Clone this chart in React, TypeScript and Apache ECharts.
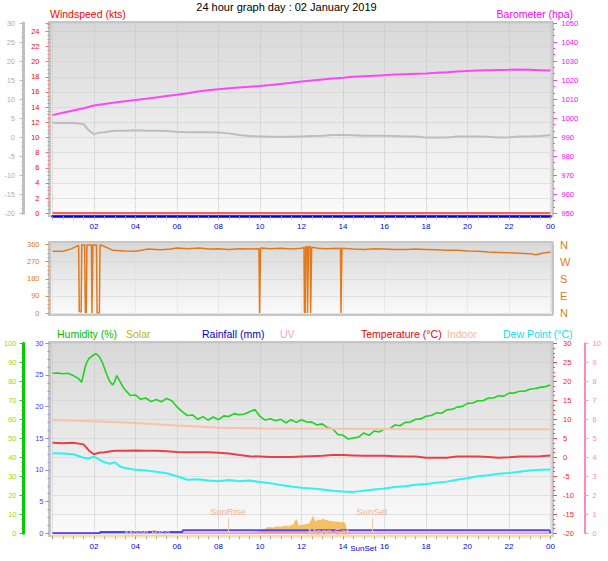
import React, { useEffect, useRef } from 'react';
import * as echarts from 'echarts';

const TITLE = '24 hour graph day : 02 January 2019';

const HALF_HOURS = [0,0.5,1,1.5,2,2.5,3,3.5,4,4.5,5,5.5,6,6.5,7,7.5,8,8.5,9,9.5,10,10.5,11,11.5,12,12.5,13,13.5,14,14.5,15,15.5,16,16.5,17,17.5,18,18.5,19,19.5,20,20.5,21,21.5,22,22.5,23,23.5,24];

const baroValues = [1001.6,1002.8,1004.0,1005.2,1006.6,1007.4,1008.2,1008.9,1009.6,1010.2,1010.9,1011.6,1012.3,1013.1,1014.0,1014.7,1015.2,1015.7,1016.1,1016.5,1016.9,1017.4,1018.0,1018.6,1019.3,1019.8,1020.3,1020.8,1021.2,1021.7,1022.0,1022.3,1022.6,1022.9,1023.1,1023.3,1023.5,1023.8,1024.1,1024.5,1024.8,1025.0,1025.2,1025.3,1025.4,1025.6,1025.4,1025.2,1025.0];

const windSpeedHours = [0, 24];
const windSpeedValues = [0, 0];

const tempHours = [0,0.5,1,1.5,1.75,2,2.25,2.5,3,3.5,4,4.5,5,5.5,6,6.5,7,7.5,8,8.5,9,9.5,10,10.5,11,11.5,12,12.5,13,13.5,14,14.5,15,15.5,16,16.5,17,17.5,18,18.5,19,19.5,20,20.5,21,21.5,22,22.5,23,23.5,24];
const tempValues = [3.8,3.7,3.8,3.4,1.8,0.8,1.2,1.3,1.7,1.7,1.8,1.7,1.7,1.6,1.4,1.3,1.3,1.3,1.2,1.0,0.6,0.3,0.2,0.1,0.1,0.1,0.2,0.3,0.4,0.6,0.6,0.5,0.4,0.4,0.4,0.3,0.2,0.2,-0.1,-0.1,-0.1,0.2,0.2,0.2,0.1,-0.1,0.0,0.2,0.2,0.3,0.5];

const indoorHours = [0,2,4,6,7,8,10,14,18,24];
const indoorValues = [9.8,9.5,9.0,8.4,8.1,7.8,7.6,7.5,7.4,7.4];

const dewHours = [0,0.5,1,1.5,1.75,2,2.25,2.5,2.75,3,3.25,3.5,4,4.5,5,5.5,6,6.5,7,7.5,8,8.5,9,9.5,10,10.5,11,11.5,12,12.5,13,13.5,14,14.5,15,15.5,16,16.5,17,17.5,18,18.5,19,19.5,20,20.5,21,21.5,22,22.5,23,23.5,24];
const dewValues = [1.05,1.0,0.8,-0.1,-0.3,0.2,-0.6,-1.3,-1.7,-1.3,-2.4,-2.8,-3.3,-3.5,-3.8,-4.2,-5.0,-5.9,-5.8,-6.1,-6.3,-6.0,-6.3,-6.1,-6.5,-6.8,-7.3,-7.7,-8.0,-8.2,-8.5,-8.8,-9.0,-9.1,-8.8,-8.5,-8.2,-7.8,-7.6,-7.2,-7.0,-6.7,-6.4,-5.9,-5.5,-5.0,-4.7,-4.3,-4.1,-3.8,-3.5,-3.3,-3.2];

const humHours = [0,0.25,0.5,0.75,1,1.25,1.4,1.5,1.6,1.75,2,2.1,2.25,2.4,2.5,2.6,2.75,2.9,3,3.1,3.25,3.4,3.5,3.75,4,4.25,4.5,4.75,5,5.25,5.5,5.75,6,6.25,6.5,6.75,7,7.25,7.5,7.75,8,8.25,8.5,8.75,9,9.25,9.5,9.75,10,10.25,10.5,10.75,11,11.25,11.5,11.75,12,12.25,12.5,12.75,13,13.25,13.5,13.75,14,14.25,14.5,14.75,15,15.25,15.5,15.75,16,16.25,16.5,16.75,17,17.25,17.5,17.75,18,18.25,18.5,18.75,19,19.25,19.5,19.75,20,20.25,20.5,20.75,21,21.25,21.5,21.75,22,22.25,22.5,22.75,23,23.25,23.5,23.75,24];
const humValues = [84.2,84.4,84.0,84.2,83.0,81.5,79.5,84,88.6,92,94,94.5,93,90,87,84,80,78,80,83,80,77,75.5,72.5,72.8,70.5,71.2,69.3,70.4,69.2,71,69.8,66.5,64,62,62.3,60,61.4,59.6,61.2,59.8,61.8,61.5,63,62.4,62.8,64,65.2,61.5,59.6,60.3,59.2,60,58.2,59.8,58.4,59.8,58.6,58.5,57,57.6,55.6,55,52,51.6,49.6,50.2,50.6,52.8,51.6,53.8,53.4,55,55,57,56.6,58.4,58.6,60,60.2,61.6,62,63.4,63.2,65,65.2,66.4,66.8,68.4,68.6,69.8,69.8,71.2,71.2,72.4,72.2,73.8,73.8,74.8,74.8,75.8,76.2,76.8,77.2,78];

const windDirHours = [0,0.5,0.9,1.15,1.26,1.29,1.38,1.41,1.55,1.58,1.63,1.66,1.88,1.9,1.93,1.95,2.12,2.15,2.26,2.29,2.4,2.6,2.9,3.5,4,4.6,5.2,5.7,6,6.5,7.1,7.5,8,8.5,9,9.5,9.95,9.98,10.0,10.03,10.5,11,11.5,12,12.12,12.14,12.18,12.2,12.27,12.29,12.32,12.34,12.42,12.44,12.47,12.49,12.8,13.2,13.88,13.9,13.93,13.95,14.5,15,15.5,16,16.5,17,17.5,18,18.5,19,19.5,20,20.5,21,21.5,22,22.5,23,23.3,23.6,24];
const windDirValues = [324,325,337,350,355,8,5,358,358,4,2,357,358,0,0,357,358,0,0,358,355,345,330,326,324,336,332,336,341,338,342,336,338,334,338,336,338,0,0,342,338,340,336,340,345,2,2,350,348,0,0,350,348,0,0,345,340,338,340,0,0,340,336,334,338,336,334,334,336,334,332,330,330,326,324,320,318,316,314,312,306,314,320];

const solarHours = [9.4,9.7,10.0,10.2,10.4,10.6,10.8,11.0,11.2,11.4,11.6,11.75,11.85,12.0,12.2,12.4,12.55,12.65,12.8,12.9,13.0,13.2,13.4,13.6,13.8,14.0,14.1,14.2];
const solarValues = [0,4,8,20,32,28,35,32,38,36,45,72,40,42,46,50,88,60,70,66,74,68,62,60,58,56,52,0];

const rainHours = [0,2.28,2.3,6.26,6.28,23.95,24];
const rainValues = [0,0,0.2,0.2,0.5,0.5,0];

const uvHours = [0, 24];
const uvValues = [0, 0];

const sunRiseHour = 8.45;
const sunSetHour = 15.39;
const moonRiseHour = 4.57;
const moonSetHour = 13.29;

const compass: Record<number, string> = { 0: 'N', 90: 'E', 180: 'S', 270: 'W', 360: 'N' };

const FONT = '"Liberation Sans", Arial, sans-serif';
const pairs = (xs: number[], ys: number[]) => xs.map((x, i) => [x, ys[i]]);
const pad = (v: number) => (v === 0 ? '' : String(v % 24).padStart(2, '0'));

const GL = 52.5;
const GW = 498;

const frameFill = {
  type: 'linear', x: 0, y: 0, x2: 0, y2: 1,
  colorStops: [
    { offset: 0, color: '#d8d8d8' },
    { offset: 0.45, color: '#e8e8e8' },
    { offset: 1, color: '#fbfbfb' },
  ],
};

function xAxisFor(gridIndex: number, showLabels: boolean, lineColor: string) {
  return {
    type: 'value', gridIndex, min: 0, max: 24, interval: 2,
    offset: showLabels ? 3 : 0,
    axisLine: { show: showLabels, onZero: false, lineStyle: { color: lineColor, width: 2.5 } },
    axisTick: { show: showLabels, length: 3, lineStyle: { color: '#9a9a9a' } },
    minorTick: { show: showLabels, splitNumber: 4, length: 3, lineStyle: { color: '#b0b0b0' } },
    axisLabel: { show: showLabels, formatter: pad, color: '#0000ee', fontSize: 8, margin: 6, fontFamily: FONT },
    splitLine: { show: true, lineStyle: { type: 'dotted', color: showLabels ? '#c4c4c4' : '#dadada' } },
  };
}

function yAxisFor(o: any) {
  return {
    type: 'value',
    axisLine: { show: true, onZero: false, lineStyle: { color: o.lineColor || '#c4c4c4', width: o.lineWidth || 2 } },
    axisTick: { show: true, length: 4, lineStyle: { color: o.tickColor } },
    minorTick: { show: true, splitNumber: o.minor || 4, length: 2, lineStyle: { color: o.tickColor } },
    axisLabel: { color: o.labelColor, fontSize: 7.5, margin: o.margin, fontFamily: FONT, showMaxLabel: o.showMax !== false, formatter: (v: number) => String(v) },
    splitLine: { show: !!o.split, lineStyle: { type: 'dotted', color: '#cdcdcd' } },
    ...o.extra,
  };
}

function headerText(text: string, x: number, y: number, fill: string, align = 'left') {
  return {
    type: 'text', x, y, z: 100,
    style: { text, fill, fontSize: 10.5, fontFamily: FONT, align, verticalAlign: 'middle' },
  };
}

const option: any = {
  animation: false,
  backgroundColor: '#ffffff',
  textStyle: { fontFamily: FONT },
  grid: [
    { left: GL, top: 23, width: GW, height: 190.3 },
    { left: GL, top: 244.5, width: GW, height: 68.5 },
    { left: GL, top: 343.3, width: GW, height: 190 },
  ],
  xAxis: [
    xAxisFor(0, true, '#0000ff'),
    xAxisFor(1, false, '#c4c4c4'),
    xAxisFor(2, true, '#fbe2a6'),
  ],
  yAxis: [
    yAxisFor({ extra: { gridIndex: 0, position: 'left', offset: 3, min: 0, max: 25.1, interval: 2 }, tickColor: '#ff7070', labelColor: '#ff0000', margin: 10, split: true, showMax: false }),
    yAxisFor({ extra: { gridIndex: 0, position: 'left', offset: 29, min: -20, max: 30, interval: 5 }, lineColor: '#c0c0c0', lineWidth: 3, tickColor: '#bbbbbb', labelColor: '#b0b0b0', margin: 8.5 }),
    yAxisFor({ extra: { gridIndex: 0, position: 'right', offset: 2.5, min: 950, max: 1050, interval: 10 }, tickColor: '#ff44ff', labelColor: '#ff00ff', margin: 8.5, minor: 3 }),
    yAxisFor({ extra: { gridIndex: 1, position: 'left', offset: 3, min: 0, max: 360, interval: 90 }, tickColor: '#e8893a', labelColor: '#e07b20', margin: 10, split: true, minor: 4 }),
    {
      type: 'value', gridIndex: 1, position: 'right', offset: 2.5, min: 0, max: 360, interval: 90,
      axisLine: { show: true, onZero: false, lineStyle: { color: '#c4c4c4', width: 2 } },
      axisTick: { show: false },
      axisLabel: { color: '#e07b20', fontSize: 11, margin: 7, fontFamily: FONT, formatter: (v: number) => compass[v] || '' },
      splitLine: { show: false },
    },
    yAxisFor({ extra: { gridIndex: 2, position: 'left', offset: 29, min: 0, max: 100, interval: 10 }, lineColor: '#00cc00', lineWidth: 3, tickColor: '#22cc22', labelColor: '#a8d400', margin: 7, split: true }),
    yAxisFor({ extra: { gridIndex: 2, position: 'left', offset: 3, min: 0, max: 30, interval: 5 }, tickColor: '#8a8aff', labelColor: '#4646ff', margin: 6 }),
    yAxisFor({ extra: { gridIndex: 2, position: 'right', offset: 2.5, min: -20, max: 30, interval: 5 }, tickColor: '#ff4a4a', labelColor: '#ff2020', margin: 10 }),
    yAxisFor({ extra: { gridIndex: 2, position: 'right', offset: 34, min: 0, max: 10, interval: 1 }, lineColor: '#ff88bb', lineWidth: 2, tickColor: '#ff99c4', labelColor: '#ff88bb', margin: 8, minor: 2 }),
    { type: 'value', gridIndex: 2, min: 0, max: 1000, show: false },
  ],
  series: [
    { name: 'Temperature (top)', type: 'line', xAxisIndex: 0, yAxisIndex: 1, symbol: 'none', data: pairs(tempHours, tempValues), lineStyle: { color: '#bdbdbd', width: 2 } },
    { name: 'Barometer', type: 'line', xAxisIndex: 0, yAxisIndex: 2, symbol: 'none', data: pairs(HALF_HOURS, baroValues), lineStyle: { color: '#ff44ff', width: 2 } },
    { name: 'Windspeed', type: 'line', xAxisIndex: 0, yAxisIndex: 0, symbol: 'none', data: pairs(windSpeedHours, windSpeedValues), lineStyle: { color: '#f26464', width: 2.5 } },
    { name: 'Wind direction', type: 'line', xAxisIndex: 1, yAxisIndex: 3, symbol: 'none', data: pairs(windDirHours, windDirValues), lineStyle: { color: '#e27a1c', width: 1.5 } },
    { name: 'Solar', type: 'line', xAxisIndex: 2, yAxisIndex: 9, symbol: 'none', data: pairs(solarHours, solarValues), lineStyle: { color: '#f3ad3c', width: 0.5 }, areaStyle: { color: '#f5b54a', opacity: 0.85 } },
    { name: 'Humidity', type: 'line', xAxisIndex: 2, yAxisIndex: 5, symbol: 'none', data: pairs(humHours, humValues), lineStyle: { color: '#1ed41e', width: 1.6 } },
    { name: 'Indoor', type: 'line', xAxisIndex: 2, yAxisIndex: 7, symbol: 'none', data: pairs(indoorHours, indoorValues), lineStyle: { color: '#f8c2a8', width: 2 } },
    { name: 'Dew Point', type: 'line', xAxisIndex: 2, yAxisIndex: 7, symbol: 'none', data: pairs(dewHours, dewValues), lineStyle: { color: '#2ef2f2', width: 2 } },
    { name: 'Temperature', type: 'line', xAxisIndex: 2, yAxisIndex: 7, symbol: 'none', data: pairs(tempHours, tempValues), lineStyle: { color: '#e8404a', width: 2 } },
    { name: 'UV', type: 'line', xAxisIndex: 2, yAxisIndex: 8, symbol: 'none', data: pairs(uvHours, uvValues), lineStyle: { color: '#ff90c0', width: 2 } },
    {
      name: 'Rainfall', type: 'line', xAxisIndex: 2, yAxisIndex: 6, symbol: 'none',
      data: pairs(rainHours, rainValues), lineStyle: { color: '#4848ff', width: 2 },
      markLine: {
        silent: true, symbol: 'none', animation: false,
        lineStyle: { color: '#f5c6ae', type: 'solid', width: 1 },
        label: { show: true, position: 'end', formatter: '{b}', color: '#f2b38f', fontSize: 9.5, fontFamily: FONT, distance: 2 },
        data: [
          [{ coord: [sunRiseHour, 0], name: 'SunRise' }, { coord: [sunRiseHour, 2.3] }],
          [{ coord: [sunSetHour, 0], name: 'SunSet' }, { coord: [sunSetHour, 2.3] }],
        ],
      },
      markPoint: {
        silent: true, symbol: 'rect', symbolSize: [44, 10], animation: false,
        itemStyle: { color: 'rgba(255,255,255,0)' },
        label: { show: true, position: 'inside', formatter: '{b}', color: '#f4c4aa', fontSize: 9.5, fontFamily: FONT },
        data: [
          { coord: [moonRiseHour, 0.1], name: 'Moon Rise' },
          { coord: [moonSetHour, 0.35], name: 'Moon Set' },
        ],
      },
    },
  ],
  graphic: [
    { type: 'rect', z: -1, shape: { x: 49, y: 22, width: 503.5, height: 194 }, style: { fill: frameFill, stroke: '#c6c6c6', lineWidth: 2 } },
    { type: 'rect', z: -1, shape: { x: 49, y: 242, width: 503.5, height: 73 }, style: { fill: frameFill, stroke: '#c6c6c6', lineWidth: 2 } },
    { type: 'rect', z: -1, shape: { x: 49, y: 342, width: 503.5, height: 194 }, style: { fill: frameFill, stroke: '#c6c6c6', lineWidth: 2 } },
    { type: 'text', x: 286.5, y: 6.5, z: 100, style: { text: TITLE, fill: '#000000', fontSize: 11, fontFamily: FONT, align: 'center', verticalAlign: 'middle' } },
    headerText('Windspeed (kts)', 50, 13.5, '#ff0000'),
    headerText('Barometer (hpa)', 573, 13.5, '#ff00ff', 'right'),
    headerText('Humidity (%)', 57, 334, '#00bb00'),
    headerText('Solar', 126, 334, '#c8b400'),
    headerText('Rainfall (mm)', 202, 334, '#0000cc'),
    headerText('UV', 280, 334, '#ff9cc8'),
    headerText('Temperature (°C)', 361, 334, '#ee0000'),
    headerText('Indoor', 447, 334, '#f5b895'),
    headerText('Dew Point (°C)', 503, 334, '#00e5ee'),
    { type: 'text', x: GL + (sunSetHour / 24) * GW - 8.5, y: 548.5, z: 100, style: { text: 'SunSet', fill: '#0000ee', fontSize: 8, fontFamily: FONT, align: 'center', verticalAlign: 'middle' } },
  ],
};

export default function App() {
  const ref = useRef<HTMLDivElement>(null);
  useEffect(() => {
    const chart = echarts.init(ref.current as HTMLDivElement, null, { renderer: 'svg' });
    chart.setOption(option);
    return () => chart.dispose();
  }, []);
  return <div ref={ref} style={{ position: 'fixed', left: 0, top: 0, width: 608, height: 561, background: '#ffffff' }} />;
}
